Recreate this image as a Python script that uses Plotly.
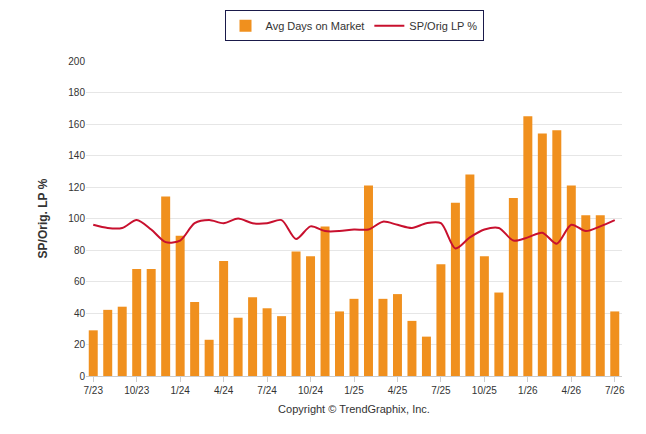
import plotly.graph_objects as go

months = ['7/23', '8/23', '9/23', '10/23', '11/23', '12/23', '1/24', '2/24', '3/24', '4/24', '5/24', '6/24',
          '7/24', '8/24', '9/24', '10/24', '11/24', '12/24', '1/25', '2/25', '3/25', '4/25', '5/25', '6/25',
          '7/25', '8/25', '9/25', '10/25', '11/25', '12/25', '1/26', '2/26', '3/26', '4/26', '5/26', '6/26', '7/26']
avg_days = [29, 42, 44, 68, 68, 114, 89, 47, 23, 73, 37, 50, 43, 38, 79, 76, 95, 41, 49, 121, 49, 52, 35, 25,
            71, 110, 128, 76, 53, 113, 165, 154, 156, 121, 102, 102, 41]
sp_orig = [96, 94, 94, 99, 93, 85, 86, 97, 99, 97, 100, 97, 97, 99, 87, 95, 92, 92, 93, 93, 98, 96, 94,
           97, 97, 81, 88, 93, 94, 86, 88, 91, 84, 96, 92, 95, 99]
tick_labels = ['7/23', '10/23', '1/24', '4/24', '7/24', '10/24', '1/25', '4/25', '7/25', '10/25', '1/26', '4/26', '7/26']

fig = go.Figure()
fig.add_trace(go.Bar(x=months, y=avg_days, name='Avg Days on Market',
                     marker=dict(color='#F0901E', line=dict(width=0)), width=0.62))
fig.add_trace(go.Scatter(x=months, y=sp_orig, name='SP/Orig LP %', mode='lines',
                         line=dict(color='#C8102E', width=2, shape='spline', smoothing=0.8)))

fig.update_layout(
    width=646, height=434,
    paper_bgcolor='white', plot_bgcolor='white',
    margin=dict(l=78, r=32, t=53, b=66, autoexpand=False),
    font=dict(family='Arial, Liberation Sans', size=10, color='#333'),
    showlegend=True,
    legend=dict(orientation='h', x=0.5, xanchor='center', y=0.995, yanchor='top',
                yref='container', bordercolor='#1a1a4a', borderwidth=1, font=dict(size=11)),
    xaxis=dict(tickmode='array', tickvals=tick_labels, ticktext=tick_labels,
               showline=True, linecolor='#ccc', ticks='outside', tickcolor='#ccc', ticklen=5,
               title=dict(text='Copyright © TrendGraphix, Inc.', font=dict(size=11, color='#333'), standoff=10)),
    yaxis=dict(range=[0, 200], dtick=20, gridcolor='#e6e6e6', zeroline=False,
               title=dict(text='<b>SP/Orig. LP %</b>', font=dict(size=12, color='#333'), standoff=18)),
    bargap=0.38,
)

fig.write_html("out.html")
